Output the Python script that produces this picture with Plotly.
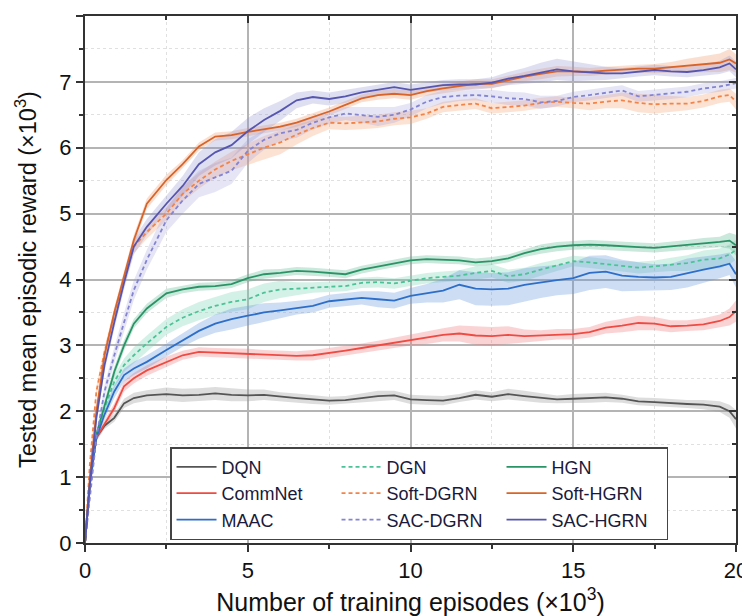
import plotly.graph_objects as go

# x positions (x10^3 episodes)
episodes = [0, 0.15, 0.35, 0.6, 0.9, 1.2, 1.5, 1.9, 2.5, 3.0, 3.5, 4.0, 4.5, 5.0, 5.5, 6.0, 6.5, 7.0, 7.5,
            8.0, 8.5, 9.0, 9.5, 10, 10.5, 11, 11.5, 12, 12.5, 13, 13.5, 14, 14.5, 15, 15.5, 16, 16.5, 17,
            17.5, 18, 18.5, 19, 19.5, 19.8, 20]

dqn = [0, 0.9, 1.6, 1.78, 1.9, 2.12, 2.2, 2.24, 2.26, 2.24, 2.25, 2.27, 2.25, 2.24, 2.25, 2.22, 2.2, 2.18,
       2.16, 2.17, 2.2, 2.23, 2.24, 2.18, 2.17, 2.16, 2.2, 2.25, 2.22, 2.26, 2.23, 2.2, 2.18, 2.19, 2.2,
       2.21, 2.19, 2.15, 2.14, 2.12, 2.11, 2.1, 2.07, 2.0, 1.88]
commnet = [0, 0.9, 1.6, 1.8, 2.05, 2.38, 2.5, 2.62, 2.75, 2.85, 2.9, 2.89, 2.88, 2.87, 2.86, 2.85, 2.84,
           2.85, 2.88, 2.92, 2.96, 3.0, 3.04, 3.08, 3.12, 3.16, 3.18, 3.15, 3.14, 3.16, 3.14, 3.15, 3.17,
           3.17, 3.2, 3.27, 3.3, 3.34, 3.33, 3.29, 3.3, 3.32, 3.37, 3.43, 3.52]
maac = [0, 0.9, 1.6, 1.95, 2.3, 2.55, 2.65, 2.75, 2.93, 3.08, 3.22, 3.33, 3.4, 3.45, 3.5, 3.53, 3.57, 3.6,
        3.67, 3.7, 3.72, 3.7, 3.68, 3.75, 3.79, 3.83, 3.92, 3.86, 3.85, 3.86, 3.92, 3.96, 3.99, 4.02, 4.1,
        4.12, 4.06, 4.04, 4.03, 4.04, 4.1, 4.15, 4.2, 4.24, 4.08]
dgn = [0, 0.9, 1.6, 2.05, 2.45, 2.7, 2.85, 3.03, 3.28, 3.42, 3.52, 3.6, 3.66, 3.7, 3.8, 3.85, 3.86, 3.88,
       3.89, 3.9, 3.95, 3.96, 3.94, 3.98, 4.02, 4.04, 4.06, 4.1, 4.13, 4.05, 4.08, 4.15, 4.22, 4.28, 4.26,
       4.23, 4.2, 4.18, 4.2, 4.23, 4.25, 4.3, 4.32, 4.38, 4.45]
soft_dgrn = [0, 1.2, 2.3, 2.9, 3.45, 4.0, 4.5, 4.72, 5.0, 5.3, 5.5, 5.67, 5.8, 5.9, 6.0, 6.08, 6.2, 6.3,
             6.38, 6.37, 6.38, 6.4, 6.44, 6.46, 6.52, 6.62, 6.65, 6.67, 6.6, 6.62, 6.64, 6.68, 6.7, 6.68,
             6.67, 6.7, 6.72, 6.68, 6.66, 6.67, 6.67, 6.71, 6.78, 6.8, 6.7]
sac_dgrn = [0, 0.7, 1.6, 2.3, 2.85, 3.35, 3.84, 4.3, 4.9, 5.2, 5.45, 5.55, 5.65, 5.95, 6.12, 6.22, 6.27,
            6.38, 6.46, 6.52, 6.5, 6.47, 6.5, 6.58, 6.7, 6.77, 6.79, 6.8, 6.78, 6.75, 6.74, 6.69, 6.71,
            6.77, 6.8, 6.83, 6.87, 6.78, 6.8, 6.82, 6.85, 6.9, 6.93, 6.96, 6.98]
hgn = [0, 0.9, 1.65, 2.1, 2.6, 3.0, 3.33, 3.56, 3.79, 3.85, 3.89, 3.9, 3.93, 4.02, 4.08, 4.1, 4.13, 4.12,
       4.1, 4.08, 4.15, 4.2, 4.25, 4.29, 4.31, 4.3, 4.29, 4.26, 4.28, 4.32, 4.4, 4.46, 4.5, 4.52, 4.53,
       4.52, 4.5, 4.49, 4.48, 4.5, 4.53, 4.55, 4.57, 4.59, 4.52]
soft_hgrn = [0, 1.0, 2.0, 2.85, 3.5, 4.05, 4.6, 5.15, 5.51, 5.75, 6.02, 6.17, 6.19, 6.24, 6.28, 6.32, 6.38,
             6.46, 6.55, 6.65, 6.75, 6.8, 6.82, 6.8, 6.86, 6.9, 6.93, 6.97, 6.97, 7.03, 7.08, 7.12, 7.16,
             7.16, 7.15, 7.17, 7.19, 7.2, 7.2, 7.22, 7.25, 7.27, 7.29, 7.34, 7.28]
sac_hgrn = [0, 0.9, 1.9, 2.7, 3.35, 3.95, 4.5, 4.8, 5.15, 5.42, 5.75, 5.93, 6.04, 6.25, 6.42, 6.56, 6.72,
            6.77, 6.74, 6.78, 6.84, 6.88, 6.92, 6.88, 6.92, 6.95, 6.96, 6.96, 6.99, 7.05, 7.09, 7.14,
            7.19, 7.16, 7.14, 7.13, 7.13, 7.16, 7.18, 7.16, 7.15, 7.18, 7.22, 7.28, 7.19]

# half-widths of shaded bands
dqn_band = [0, 0.03, 0.05, 0.05, 0.06, 0.07, 0.08, 0.08, 0.1, 0.1, 0.1, 0.1, 0.1, 0.09, 0.08, 0.07, 0.07,
            0.07, 0.06, 0.06, 0.07, 0.08, 0.07, 0.07, 0.07, 0.07, 0.06, 0.07, 0.07, 0.08, 0.08, 0.07, 0.06,
            0.07, 0.07, 0.07, 0.06, 0.06, 0.06, 0.06, 0.06, 0.07, 0.08, 0.1, 0.14]
commnet_band = [0, 0.03, 0.05, 0.06, 0.07, 0.08, 0.08, 0.08, 0.08, 0.07, 0.07, 0.07, 0.08, 0.08, 0.07,
                0.07, 0.07, 0.08, 0.08, 0.07, 0.07, 0.07, 0.08, 0.08, 0.1, 0.1, 0.12, 0.14, 0.14, 0.13,
                0.1, 0.08, 0.08, 0.08, 0.08, 0.09, 0.1, 0.11, 0.1, 0.09, 0.08, 0.09, 0.1, 0.13, 0.16]
maac_band = [0, 0.03, 0.06, 0.08, 0.1, 0.1, 0.1, 0.1, 0.1, 0.1, 0.12, 0.14, 0.16, 0.15, 0.14, 0.12, 0.1,
             0.1, 0.1, 0.1, 0.1, 0.12, 0.12, 0.12, 0.14, 0.18, 0.22, 0.25, 0.25, 0.25, 0.25, 0.24, 0.23,
             0.24, 0.26, 0.25, 0.24, 0.22, 0.2, 0.2, 0.22, 0.2, 0.18, 0.17, 0.2]
dgn_band = [0, 0.03, 0.06, 0.08, 0.1, 0.1, 0.12, 0.12, 0.12, 0.13, 0.14, 0.14, 0.15, 0.15, 0.14, 0.13,
            0.1, 0.08, 0.08, 0.08, 0.08, 0.08, 0.08, 0.08, 0.08, 0.08, 0.08, 0.1, 0.1, 0.1, 0.1, 0.1,
            0.09, 0.08, 0.08, 0.08, 0.08, 0.09, 0.09, 0.1, 0.12, 0.14, 0.15, 0.15, 0.15]
soft_dgrn_band = [0, 0.05, 0.08, 0.08, 0.1, 0.1, 0.1, 0.1, 0.1, 0.12, 0.12, 0.12, 0.14, 0.16, 0.18, 0.18,
                  0.15, 0.12, 0.1, 0.1, 0.1, 0.1, 0.1, 0.1, 0.08, 0.08, 0.08, 0.08, 0.08, 0.08, 0.08,
                  0.08, 0.08, 0.08, 0.1, 0.1, 0.12, 0.14, 0.14, 0.12, 0.1, 0.1, 0.1, 0.1, 0.12]
sac_dgrn_band = [0, 0.05, 0.08, 0.1, 0.12, 0.14, 0.15, 0.15, 0.18, 0.2, 0.2, 0.22, 0.2, 0.18, 0.15, 0.12,
                 0.12, 0.1, 0.1, 0.1, 0.12, 0.14, 0.12, 0.1, 0.1, 0.1, 0.08, 0.08, 0.1, 0.1, 0.1, 0.1,
                 0.08, 0.08, 0.08, 0.08, 0.08, 0.08, 0.08, 0.08, 0.08, 0.08, 0.08, 0.08, 0.08]
hgn_band = [0, 0.03, 0.05, 0.07, 0.08, 0.08, 0.07, 0.07, 0.07, 0.06, 0.06, 0.06, 0.06, 0.06, 0.07, 0.06,
            0.06, 0.06, 0.06, 0.06, 0.06, 0.06, 0.06, 0.06, 0.06, 0.06, 0.06, 0.06, 0.06, 0.06, 0.06,
            0.07, 0.07, 0.07, 0.07, 0.07, 0.07, 0.07, 0.07, 0.07, 0.07, 0.08, 0.08, 0.12, 0.16]
soft_hgrn_band = [0, 0.05, 0.08, 0.08, 0.08, 0.08, 0.08, 0.08, 0.08, 0.06, 0.06, 0.06, 0.06, 0.06, 0.06,
                  0.06, 0.06, 0.06, 0.06, 0.06, 0.06, 0.07, 0.07, 0.07, 0.07, 0.07, 0.07, 0.07, 0.07,
                  0.07, 0.07, 0.08, 0.08, 0.07, 0.06, 0.06, 0.06, 0.06, 0.07, 0.08, 0.1, 0.12, 0.14,
                  0.16, 0.14]
sac_hgrn_band = [0, 0.05, 0.08, 0.1, 0.1, 0.1, 0.12, 0.12, 0.12, 0.15, 0.18, 0.2, 0.2, 0.2, 0.18, 0.15,
                 0.12, 0.1, 0.1, 0.1, 0.08, 0.08, 0.08, 0.08, 0.08, 0.08, 0.08, 0.08, 0.08, 0.1, 0.12,
                 0.15, 0.16, 0.15, 0.12, 0.1, 0.08, 0.08, 0.08, 0.08, 0.08, 0.08, 0.1, 0.12, 0.12]

x_ticks = [0, 5, 10, 15, 20]
y_ticks = [0, 1, 2, 3, 4, 5, 6, 7, 8]

# legend order fills row by row (3 columns)
series = [
    ("DQN", dqn, dqn_band, "#555555", "solid", "rgba(150,150,150,0.32)"),
    ("DGN", dgn, dgn_band, "#4cc396", "dash", "rgba(120,210,180,0.32)"),
    ("HGN", hgn, hgn_band, "#2a9466", "solid", "rgba(80,180,140,0.30)"),
    ("CommNet", commnet, commnet_band, "#ee4b43", "solid", "rgba(240,120,120,0.32)"),
    ("Soft-DGRN", soft_dgrn, soft_dgrn_band, "#f2844a", "dash", "rgba(245,160,110,0.30)"),
    ("Soft-HGRN", soft_hgrn, soft_hgrn_band, "#d8642a", "solid", "rgba(240,150,100,0.30)"),
    ("MAAC", maac, maac_band, "#2d6fc8", "solid", "rgba(100,150,220,0.32)"),
    ("SAC-DGRN", sac_dgrn, sac_dgrn_band, "#8484d2", "dash", "rgba(150,150,220,0.25)"),
    ("SAC-HGRN", sac_hgrn, sac_hgrn_band, "#5656b0", "solid", "rgba(140,140,210,0.28)"),
]

fig = go.Figure()
for name, vals, band, col, dash, fillc in series:
    upper = [v + b for v, b in zip(vals, band)]
    lower = [v - b for v, b in zip(vals, band)]
    fig.add_trace(go.Scatter(x=episodes + episodes[::-1], y=upper + lower[::-1], fill="toself",
                             fillcolor=fillc, line=dict(width=0), hoverinfo="skip",
                             showlegend=False, mode="lines"))
for name, vals, band, col, dash, fillc in series:
    fig.add_trace(go.Scatter(x=episodes, y=vals, name=name, mode="lines",
                             line=dict(color=col, width=1.8,
                                       dash="4px,3px" if dash == "dash" else "solid")))

# empty trace on the overlay axes (top/right inside ticks)
fig.add_trace(go.Scatter(x=[], y=[], xaxis="x2", yaxis="y2", showlegend=False, hoverinfo="skip"))

font_family = "Liberation Sans, Arial, sans-serif"
# the page body adds an 8px offset, so the figure is 742x608
fig.update_layout(
    width=742, height=608,
    margin=dict(l=77, r=14, t=8, b=73, autoexpand=False),
    paper_bgcolor="white", plot_bgcolor="white",
    font=dict(family=font_family, size=20, color="#111111"),
    showlegend=True,
    legend=dict(orientation="h", x=0.1306, y=0.182, xanchor="left", yanchor="top",
                entrywidth=110, entrywidthmode="pixels",
                bordercolor="#444444", borderwidth=1.5, bgcolor="white",
                font=dict(size=18, family=font_family, color="#1a1a3a"),
                itemwidth=40, traceorder="normal"),
    xaxis=dict(range=[0, 20], tickvals=x_ticks, ticktext=[str(t) for t in x_ticks],
               automargin=False,
               showline=True, linecolor="#333333", linewidth=2, mirror=True,
               ticks="outside", ticklen=7, tickwidth=1.5, tickcolor="#333333",
               showgrid=True, gridcolor="#b4b4b4", gridwidth=1.5, zeroline=False,
               tickfont=dict(size=22),
               minor=dict(dtick=2.5, tick0=0, ticks="outside", ticklen=4, tickcolor="#333333",
                          showgrid=True, gridcolor="#e0e0e0", griddash="dot", gridwidth=1),
               title=dict(text="Number of training episodes (×10<sup>3</sup>)", font=dict(size=25),
                          standoff=14)),
    yaxis=dict(range=[0, 8], tickvals=y_ticks, ticktext=[str(t) for t in y_ticks],
               automargin=False,
               showline=True, linecolor="#333333", linewidth=2, mirror=True,
               ticks="outside", ticklen=7, tickwidth=1.5, tickcolor="#333333",
               showgrid=True, gridcolor="#b4b4b4", gridwidth=1.5, zeroline=False,
               tickfont=dict(size=22),
               minor=dict(dtick=0.5, tick0=0, ticks="outside", ticklen=4, tickcolor="#333333",
                          showgrid=True, gridcolor="#e0e0e0", griddash="dot", gridwidth=1),
               title=dict(text="Tested mean episodic reward (×10<sup>3</sup>)", font=dict(size=23.5),
                          standoff=16)),
    xaxis2=dict(range=[0, 20], overlaying="x", side="top", tickvals=x_ticks, showticklabels=False,
                automargin=False,
                ticks="inside", ticklen=7, tickwidth=1.5, tickcolor="#333333", showgrid=False,
                zeroline=False, showline=False,
                minor=dict(dtick=2.5, tick0=0, ticks="inside", ticklen=4, tickcolor="#333333")),
    yaxis2=dict(range=[0, 8], overlaying="y", side="right", tickvals=y_ticks, showticklabels=False,
                automargin=False,
                ticks="inside", ticklen=7, tickwidth=1.5, tickcolor="#333333", showgrid=False,
                zeroline=False, showline=False,
                minor=dict(dtick=0.5, tick0=0, ticks="inside", ticklen=4, tickcolor="#333333")),
)

fig.write_html("out.html")
